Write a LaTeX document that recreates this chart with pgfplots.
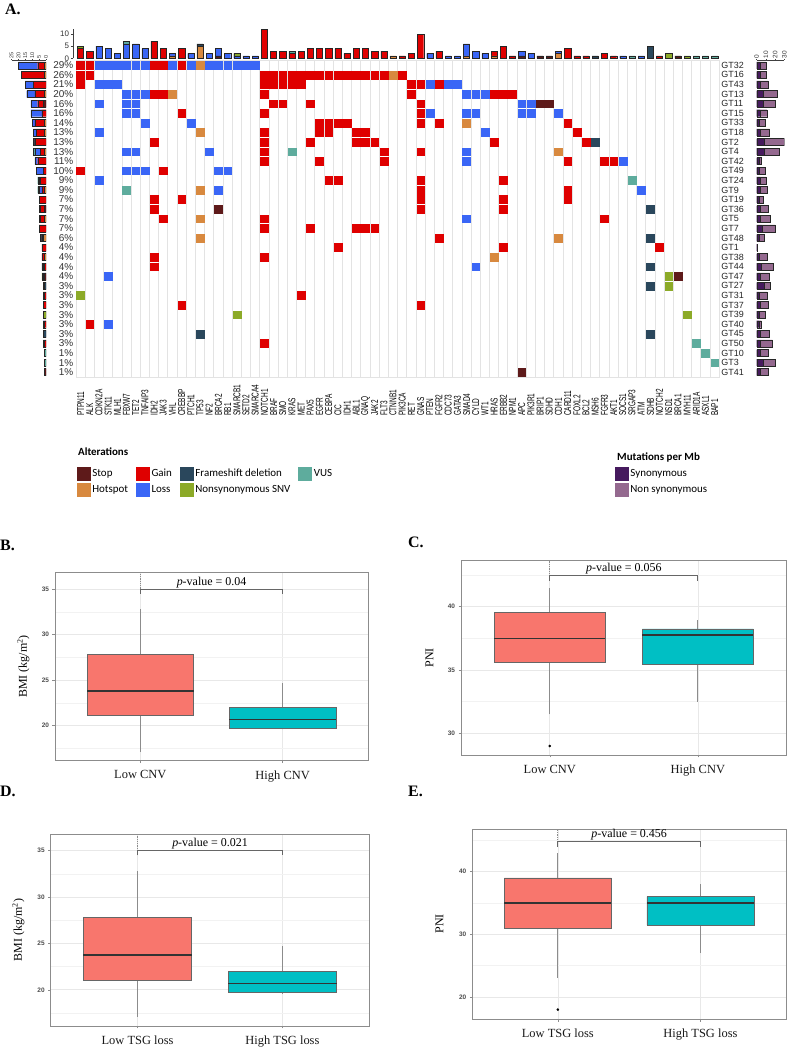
\documentclass[border=0pt]{standalone}
\usepackage{fontspec}
\setmainfont{Liberation Serif}
\newfontfamily\arialf{Liberation Sans}
\newfontfamily\genef[FakeStretch=0.65]{Liberation Sans}
\newfontfamily\calib{Carlito}
\usepackage{pgfplots}
\pgfplotsset{compat=1.18}
\usepackage{pgfplotstable}

\definecolor{cstop}{HTML}{5E1A1A}
\definecolor{chot}{HTML}{D8893F}
\definecolor{cgain}{HTML}{DF0000}
\definecolor{closs}{HTML}{3A66F6}
\definecolor{cfs}{HTML}{2A475C}
\definecolor{csnv}{HTML}{8CAA28}
\definecolor{cvus}{HTML}{5EAC9D}
\definecolor{csyn}{HTML}{461A5E}
\definecolor{cnon}{HTML}{94698F}
\definecolor{cred}{HTML}{F8766D}
\definecolor{ccyan}{HTML}{00BFC4}

% alterations per gene (top bars)
\pgfplotstableread{
g stop hot gain loss fs snv vus
0 0 0 4 0 0 1 0
1 0 0 3 0 0 0 0
2 0 0 0 5 0 0 0
3 0 0 0 4 0 0 0
4 0 0 0 2 0 0 0
5 0 0 0 6 0 0 1
6 0 0 0 6 0 0 0
7 0 0 0 4 0 0 0
8 0 0 7 0 0 0 0
9 0 0 4 0 0 0 0
10 0 1 0 1 0 0 0
11 0 0 4 0 0 0 0
12 0 0 0 2 0 0 0
13 0 5 0 0 1 0 0
14 0 0 0 2 0 0 0
15 1 0 0 3 0 0 0
16 0 0 0 2 0 0 0
17 0 0 0 1 0 1 0
18 0 0 0 1 0 0 0
19 0 0 0 1 0 0 0
20 0 0 12 0 0 0 0
21 0 0 3 0 0 0 0
22 0 0 3 0 0 0 0
23 0 0 2 0 0 0 1
24 0 0 3 0 0 0 0
25 0 0 4 0 0 0 0
26 0 0 4 0 0 0 0
27 0 0 4 0 0 0 0
28 0 0 4 0 0 0 0
29 0 0 2 0 0 0 0
30 0 0 4 0 0 0 0
31 0 0 4 0 0 0 0
32 0 0 3 0 0 0 0
33 0 0 3 0 0 0 0
34 0 1 0 0 0 0 0
35 0 0 1 0 0 0 0
36 0 0 2 0 0 0 0
37 0 0 10 0 0 0 0
38 0 0 0 2 0 0 0
39 0 0 3 0 0 0 0
40 0 0 0 1 0 0 0
41 0 0 0 1 0 0 0
42 0 1 0 5 0 0 0
43 0 0 0 3 0 0 0
44 0 0 0 2 0 0 0
45 0 1 2 0 0 0 0
46 0 0 5 0 0 0 0
47 0 0 1 0 0 0 0
48 1 0 0 2 0 0 0
49 0 0 0 2 0 0 0
50 1 0 0 0 0 0 0
51 1 0 0 0 0 0 0
52 0 2 0 1 0 0 0
53 0 0 4 0 0 0 0
54 0 0 1 0 0 0 0
55 0 0 1 0 0 0 0
56 0 0 0 0 1 0 0
57 0 0 2 0 0 0 0
58 0 0 1 0 0 0 0
59 0 0 0 1 0 0 0
60 0 0 0 0 0 0 1
61 0 0 0 1 0 0 0
62 0 0 0 0 5 0 0
63 0 0 1 0 0 0 0
64 0 0 0 0 0 2 0
65 1 0 0 0 0 0 0
66 0 0 0 0 0 1 0
67 0 0 0 0 0 0 1
68 0 0 0 0 0 0 1
69 0 0 0 0 0 0 1
}\genebars

% alterations per sample (left bars), row 32 = GT32 ... row 0 = GT41
\pgfplotstableread{
r stop hot gain loss fs snv vus
32 0 1 5 14 0 0 0
31 0 1 17 0 0 0 0
30 0 0 9 6 0 0 0
29 0 1 7 6 0 0 0
28 2 0 4 5 0 0 0
27 0 0 3 8 0 0 0
26 0 1 7 2 0 0 0
25 0 1 6 2 0 0 0
24 0 0 8 0 1 0 0
23 0 1 3 4 0 0 1
22 0 0 6 2 0 0 0
21 0 0 2 5 0 0 0
20 0 0 4 1 0 0 1
19 0 1 2 2 0 0 1
18 0 0 5 0 0 0 0
17 1 0 3 0 1 0 0
16 0 1 3 1 0 0 0
15 0 0 5 0 0 0 0
14 0 2 1 0 1 0 0
13 0 0 3 0 0 0 0
12 0 1 2 0 0 0 0
11 0 0 1 1 1 0 0
10 1 0 0 1 0 1 0
9 0 0 0 0 1 1 0
8 0 0 1 0 0 1 0
7 0 0 2 0 0 0 0
6 0 0 0 0 0 2 0
5 0 0 1 1 0 0 0
4 0 0 0 0 2 0 0
3 0 0 1 0 0 0 1
2 0 0 0 0 0 0 1
1 0 0 0 0 0 0 1
0 1 0 0 0 0 0 0
}\samplebars

% mutations per Mb (right bars)
\pgfplotstableread{
r syn non
32 4 6
31 4 6
30 4 8
29 7 15
28 7 13
27 4 7
26 3 6
25 4 10
24 8 22
23 8 16
22 3 2
21 3 6
20 4 6
19 4 7
18 3 4
17 4 8
16 4 11
15 6 14
14 3 5
13 0.5 0.5
12 3 8
11 5 13
10 4 10
9 8 7
8 3 8
7 4 9
6 3 6
5 3 2
4 4 10
3 4 13
2 4 9
1 7 13
0 4 8
}\tmb

\newcommand{\sqimg}[1]{\addlegendimage{legend image code/.code={\fill[#1] (0bp,-6.5bp) rectangle (13bp,6.5bp);}}}

\pgfplotsset{
  gg/.style={
    scale only axis, anchor=south west, clip=false,
    xmin=0.4, xmax=2.6, xtick={1,2},
    axis line style={draw=black!45, line width=0.9bp},
    xmajorgrids, ymajorgrids, yminorgrids,
    major grid style={draw=black!9, line width=0.7bp},
    minor grid style={draw=black!5, line width=0.5bp},
    tick style={draw=black!45, line width=0.6bp},
    major tick length=2.5bp, minor tick length=0pt,
    tick align=outside, xtick pos=left, ytick pos=left,
    yticklabel style={font=\arialf\bfseries\fontsize{6.5}{7}\selectfont, text=black!70},
    xticklabel style={font=\fontsize{12.5}{14}\selectfont, text=black!90},
    xticklabel shift=4bp,
    /pgf/number format/assume math mode=true,
    ylabel style={font=\fontsize{12}{13}\selectfont, anchor=south},
  },
  whisk/.style={draw=black!45, line width=0.9bp},
  boxr/.style={fill=cred, draw=black!60, line width=0.8bp},
  boxc/.style={fill=ccyan, draw=black!60, line width=0.8bp},
  med/.style={draw=black!80, line width=1.3bp},
  brack/.style={draw=black!60, line width=0.9bp},
  dots/.style={draw=black!45, densely dotted, line width=0.8bp},
  stackbar/.style={draw=black!85, line width=0.4bp},
  cell/.style={only marks, mark=square*, mark size=3.9bp},
}

\begin{document}
\begin{tikzpicture}
\path[use as bounding box] (0bp,0bp) rectangle (791bp,1050bp);

% panel labels
\node[anchor=base west, inner sep=0pt, font=\bfseries\fontsize{16}{16}\selectfont] at (5bp,1035bp) {A.};
\node[anchor=base west, inner sep=0pt, font=\bfseries\fontsize{16}{16}\selectfont] at (0bp,499bp) {B.};
\node[anchor=base west, inner sep=0pt, font=\bfseries\fontsize{16}{16}\selectfont] at (408bp,502bp) {C.};
\node[anchor=base west, inner sep=0pt, font=\bfseries\fontsize{16}{16}\selectfont] at (0bp,253bp) {D.};
\node[anchor=base west, inner sep=0pt, font=\bfseries\fontsize{16}{16}\selectfont] at (408bp,253bp) {E.};

% ---------- top bars ----------
\begin{axis}[at={(73.3bp,991.7bp)}, anchor=south west, scale only axis,
  width=646bp, height=29bp, xmin=-0.79, xmax=69.5, ymin=0, ymax=12,
  ybar stacked, bar width=6.2bp,
  axis x line=none, axis y line*=left,
  ytick={0,5,10}, tick align=outside, major tick length=2.5bp,
  y axis line style={draw=black!75, line width=0.6bp},
  ytick style={draw=black!75, line width=0.6bp},
  yticklabel style={font=\arialf\fontsize{8}{8}\selectfont, text=black!80, inner sep=1.5bp},
  /pgf/number format/assume math mode=true,
  every axis plot/.append style={stackbar}]
\addplot[fill=cstop] table[x=g,y=stop]{\genebars};
\addplot[fill=chot] table[x=g,y=hot]{\genebars};
\addplot[fill=cgain] table[x=g,y=gain]{\genebars};
\addplot[fill=closs] table[x=g,y=loss]{\genebars};
\addplot[fill=cfs] table[x=g,y=fs]{\genebars};
\addplot[fill=csnv] table[x=g,y=snv]{\genebars};
\addplot[fill=cvus] table[x=g,y=vus]{\genebars};
\end{axis}

% ---------- left bars ----------
\begin{axis}[at={(11.6bp,673bp)}, anchor=south west, scale only axis,
  width=34.4bp, height=316.5bp, xmin=-25, xmax=0, ymin=-0.5, ymax=32.5,
  xbar stacked, bar width=7bp,
  axis x line*=top, axis y line*=right,
  y axis line style={draw=none}, ytick style={draw=none},
  ytick={0,...,32},
  yticklabels={1\%,1\%,1\%,3\%,3\%,3\%,3\%,3\%,3\%,3\%,4\%,4\%,4\%,4\%,6\%,7\%,7\%,7\%,7\%,9\%,9\%,10\%,11\%,13\%,13\%,13\%,14\%,16\%,16\%,20\%,21\%,26\%,29\%},
  yticklabel style={anchor=east, inner sep=0pt, xshift=26bp, font=\arialf\fontsize{10}{10}\selectfont, text=black!80},
  xtick={-25,-20,-15,-10,-5,0}, xticklabels={25,20,15,10,5,0},
  tick align=outside, major tick length=1.5bp,
  x axis line style={draw=black!75, line width=0.5bp},
  xtick style={draw=black!75, line width=0.5bp},
  xticklabel style={rotate=90, anchor=west, inner sep=0.5bp, font=\arialf\fontsize{5.5}{6}\selectfont, text=black!80},
  every axis plot/.append style={stackbar}]
\addplot[fill=cstop] table[y=r,x expr=-\thisrow{stop}]{\samplebars};
\addplot[fill=chot] table[y=r,x expr=-\thisrow{hot}]{\samplebars};
\addplot[fill=cgain] table[y=r,x expr=-\thisrow{gain}]{\samplebars};
\addplot[fill=closs] table[y=r,x expr=-\thisrow{loss}]{\samplebars};
\addplot[fill=cfs] table[y=r,x expr=-\thisrow{fs}]{\samplebars};
\addplot[fill=csnv] table[y=r,x expr=-\thisrow{snv}]{\samplebars};
\addplot[fill=cvus] table[y=r,x expr=-\thisrow{vus}]{\samplebars};
\end{axis}

% ---------- right bars ----------
\begin{axis}[at={(756.7bp,673bp)}, anchor=south west, scale only axis,
  width=27.6bp, height=316.5bp, xmin=0, xmax=30, ymin=-0.5, ymax=32.5,
  xbar stacked, bar width=7bp,
  axis x line*=top, axis y line*=left,
  y axis line style={draw=none}, ytick style={draw=none},
  ytick={0,...,32},
  yticklabels={GT41,GT3,GT10,GT50,GT45,GT40,GT39,GT37,GT31,GT27,GT47,GT44,GT38,GT1,GT48,GT7,GT5,GT36,GT19,GT9,GT24,GT49,GT42,GT4,GT2,GT18,GT33,GT15,GT11,GT13,GT43,GT16,GT32},
  yticklabel style={anchor=west, inner sep=0pt, xshift=-34bp, font=\arialf\fontsize{9}{9}\selectfont, text=black!85},
  xtick={0,10,20,30}, tick align=outside, major tick length=1.5bp,
  x axis line style={draw=black!75, line width=0.5bp},
  xtick style={draw=black!75, line width=0.5bp},
  xticklabel style={rotate=90, anchor=west, inner sep=0.5bp, font=\arialf\fontsize{6.5}{7}\selectfont, text=black!80},
  /pgf/number format/assume math mode=true,
  every axis plot/.append style={stackbar}]
\addplot[fill=csyn] table[y=r,x=syn]{\tmb};
\addplot[fill=cnon] table[y=r,x=non]{\tmb};
\end{axis}

% ---------- oncoprint grid ----------
\begin{axis}[at={(76bp,673bp)}, anchor=south west, scale only axis,
  width=643.3bp, height=316.5bp,
  xmin=-0.5, xmax=69.5, ymin=-0.5, ymax=32.5,
  xtick={0,...,69},
  xticklabels={PTPN11,ALK,CDKN2A,STK11,MLH1,FBXW7,TET2,TNFAIP3,IDH2,JAK3,VHL,CREBBP,PTCH1,TP53,NF2,BRCA2,RB1,SMARCB1,SETD2,SMARCA4,NOTCH1,BRAF,SMO,KRAS,MET,PAX5,EGFR,CEBPA,CIC,IDH1,ABL1,GNAQ,JAK2,FLT3,CTNNB1,PIK3CA,RET,GNAS,PTEN,FGFR2,CDC73,GATA3,SMAD4,CYLD,WT1,HRAS,ERBB2,NPM1,APC,PIK3R1,BRIP1,SDHD,CDH1,CARD11,FOXL2,BCL2,MSH6,FGFR3,AKT1,SOCS1,SRGAP3,ATM,SDHB,NOTCH2,NSD1,BRCA1,MYH11,ARID1A,ASXL1,BAP1},
  ytick=\empty,
  minor xtick={-0.5,0.5,...,69.5}, minor ytick={-0.5,0.5,...,32.5},
  xminorgrids, yminorgrids,
  minor grid style={draw=black!11, line width=0.9bp},
  major tick length=0pt, minor tick length=0pt,
  axis line style={draw=black!11, line width=0.9bp},
  xticklabel style={rotate=90, anchor=west, inner sep=0pt, font=\genef\fontsize{10}{10}\selectfont, text=black},
  xticklabel shift=39bp]
\addplot[cell, mark options={fill=cgain, draw=cgain}] coordinates {
(0,32)(1,32)(8,32)(9,32)(11,32)
(0,31)(1,31)(20,31)(21,31)(22,31)(23,31)(24,31)(25,31)(26,31)(27,31)(28,31)(29,31)(30,31)(31,31)(32,31)(33,31)(35,31)
(0,30)(20,30)(21,30)(22,30)(23,30)(24,30)(36,30)(37,30)(39,30)
(8,29)(9,29)(20,29)(36,29)(45,29)(46,29)(47,29)
(21,28)(22,28)(25,28)(37,28)
(11,27)(20,27)(37,27)
(26,26)(27,26)(28,26)(29,26)(37,26)(39,26)(53,26)
(20,25)(26,25)(27,25)(30,25)(31,25)(54,25)
(8,24)(20,24)(25,24)(30,24)(31,24)(32,24)(45,24)(55,24)
(20,23)(33,23)(37,23)
(20,22)(26,22)(33,22)(53,22)(57,22)(58,22)
(0,21)(9,21)
(27,20)(28,20)(37,20)(46,20)
(37,19)(53,19)
(8,18)(11,18)(37,18)(46,18)(53,18)
(8,17)(37,17)(46,17)
(9,16)(20,16)(57,16)
(20,15)(25,15)(30,15)(31,15)(32,15)
(39,14)
(28,13)(46,13)(63,13)
(8,12)(20,12)
(8,11)
(24,8)
(11,7)(37,7)
(1,5)
(20,3)
};
\addplot[cell, mark options={fill=closs, draw=closs}] coordinates {
(2,32)(3,32)(4,32)(5,32)(6,32)(7,32)(10,32)(12,32)(14,32)(15,32)(16,32)(17,32)(18,32)(19,32)
(2,30)(3,30)(4,30)(38,30)(40,30)(41,30)
(5,29)(6,29)(7,29)(42,29)(43,29)(44,29)
(2,28)(5,28)(6,28)(48,28)(49,28)
(5,27)(6,27)(38,27)(42,27)(43,27)(48,27)(49,27)(52,27)
(7,26)(12,26)
(2,25)(44,25)
(5,23)(6,23)(14,23)(42,23)
(42,22)(59,22)
(5,21)(6,21)(7,21)(15,21)(16,21)
(2,20)
(15,19)(61,19)
(42,16)
(43,11)
(3,10)
(3,5)
};
\addplot[cell, mark options={fill=chot, draw=chot}] coordinates {
(13,32)(34,31)(10,29)(42,26)(13,25)(52,23)(13,19)(13,16)(13,14)(52,14)(45,12)
};
\addplot[cell, mark options={fill=cstop, draw=cstop}] coordinates {
(50,28)(51,28)(15,17)(65,10)(48,0)
};
\addplot[cell, mark options={fill=cfs, draw=cfs}] coordinates {
(56,24)(62,17)(62,14)(62,11)(62,9)(13,4)(62,4)
};
\addplot[cell, mark options={fill=csnv, draw=csnv}] coordinates {
(0,8)(64,10)(64,9)(17,6)(66,6)
};
\addplot[cell, mark options={fill=cvus, draw=cvus}] coordinates {
(23,23)(60,20)(5,19)(67,3)(68,2)(69,1)
};
\end{axis}

% ---------- legends ----------
\node[anchor=base west, inner sep=0pt, font=\calib\bfseries\fontsize{11}{12}\selectfont] at (78bp,594bp) {Alterations};
\begin{axis}[at={(77bp,583.3bp)}, anchor=north west, hide axis, scale only axis,
  width=5bp, height=5bp, xmin=0, xmax=1, ymin=0, ymax=1,
  legend columns=4, legend cell align=left,
  legend style={at={(0,1)}, anchor=north west, draw=none, fill=none, inner sep=0pt, outer sep=0pt,
    font=\calib\fontsize{11}{12}\selectfont, row sep=2.5bp,
    /tikz/every even column/.append style={column sep=6bp}}]
\sqimg{cstop}\addlegendentry{Stop}
\sqimg{cgain}\addlegendentry{Gain}
\sqimg{cfs}\addlegendentry{Frameshift deletion}
\sqimg{cvus}\addlegendentry{VUS}
\sqimg{chot}\addlegendentry{Hotspot}
\sqimg{closs}\addlegendentry{Loss}
\sqimg{csnv}\addlegendentry{Nonsynonymous SNV}
\end{axis}

\node[anchor=base west, inner sep=0pt, font=\calib\bfseries\fontsize{11}{12}\selectfont] at (617bp,589bp) {Mutations per Mb};
\begin{axis}[at={(615bp,583.3bp)}, anchor=north west, hide axis, scale only axis,
  width=5bp, height=5bp, xmin=0, xmax=1, ymin=0, ymax=1,
  legend columns=1, legend cell align=left,
  legend style={at={(0,1)}, anchor=north west, draw=none, fill=none, inner sep=0pt, outer sep=0pt,
    font=\calib\fontsize{11}{12}\selectfont, row sep=2.5bp}]
\sqimg{csyn}\addlegendentry{Synonymous}
\sqimg{cnon}\addlegendentry{Non synonymous}
\end{axis}

% ---------- B ----------
\begin{axis}[gg, at={(55bp,289.3bp)}, width=313bp, height=188.7bp,
  ymin=16.15, ymax=36.9, ytick={20,25,30,35}, minor ytick={17.5,22.5,27.5,32.5},
  xticklabels={Low CNV,High CNV},
  ylabel={BMI (kg/m\textsuperscript{2})},
  ylabel style={at={(axis description cs:-0.070,0.5)}}]
\addplot[dots] coordinates {(1,35) (1,36.9)};
\addplot[whisk] coordinates {(1,17.1) (1,21.1)};
\addplot[whisk] coordinates {(1,27.8) (1,32.8)};
\addplot[boxr] coordinates {(0.625,21.1) (1.375,21.1) (1.375,27.8) (0.625,27.8) (0.625,21.1)};
\addplot[med] coordinates {(0.625,23.8) (1.375,23.8)};
\addplot[whisk] coordinates {(2,19.6) (2,19.7)};
\addplot[whisk] coordinates {(2,22.0) (2,24.7)};
\addplot[boxc] coordinates {(1.625,19.7) (2.375,19.7) (2.375,22.0) (1.625,22.0) (1.625,19.7)};
\addplot[med] coordinates {(1.625,20.7) (2.375,20.7)};
\addplot[brack] coordinates {(1,34.5) (1,35) (2,35) (2,34.5)};
\node[anchor=south, inner sep=1.5bp, font=\fontsize{12}{13}\selectfont] at (axis cs:1.5,35) {\textit{p}-value = 0.04};
\end{axis}

% ---------- C ----------
\begin{axis}[gg, at={(461bp,295bp)}, width=325.7bp, height=194.3bp,
  ymin=28.29, ymax=43.63, ytick={30,35,40}, minor ytick={32.5,37.5,42.5},
  xticklabels={Low CNV,High CNV},
  ylabel={PNI},
  ylabel style={at={(axis description cs:-0.074,0.5)}}]
\addplot[dots] coordinates {(1,42.45) (1,43.63)};
\addplot[whisk] coordinates {(1,31.5) (1,35.6)};
\addplot[whisk] coordinates {(1,39.53) (1,41.45)};
\addplot[boxr] coordinates {(0.625,35.6) (1.375,35.6) (1.375,39.53) (0.625,39.53) (0.625,35.6)};
\addplot[med] coordinates {(0.625,37.5) (1.375,37.5)};
\addplot[whisk] coordinates {(2,32.5) (2,35.48)};
\addplot[whisk] coordinates {(2,38.24) (2,38.95)};
\addplot[boxc] coordinates {(1.625,35.48) (2.375,35.48) (2.375,38.24) (1.625,38.24) (1.625,35.48)};
\addplot[med] coordinates {(1.625,37.77) (2.375,37.77)};
\addplot[only marks, mark=*, mark size=1.1bp, black] coordinates {(1,29.0)};
\addplot[brack] coordinates {(1,42.05) (1,42.45) (2,42.45) (2,42.05)};
\node[anchor=south, inner sep=1.5bp, font=\fontsize{12}{13}\selectfont] at (axis cs:1.5,42.45) {\textit{p}-value = 0.056};
\end{axis}

% ---------- D ----------
\begin{axis}[gg, at={(50.7bp,24bp)}, width=318.6bp, height=192bp,
  ymin=16.1, ymax=36.8, ytick={20,25,30,35}, minor ytick={17.5,22.5,27.5,32.5},
  xticklabels={Low TSG loss,High TSG loss},
  ylabel={BMI (kg/m\textsuperscript{2})},
  ylabel style={at={(axis description cs:-0.071,0.5)}}]
\addplot[dots] coordinates {(1,35) (1,36.8)};
\addplot[whisk] coordinates {(1,17.1) (1,21.05)};
\addplot[whisk] coordinates {(1,27.8) (1,32.8)};
\addplot[boxr] coordinates {(0.625,21.05) (1.375,21.05) (1.375,27.8) (0.625,27.8) (0.625,21.05)};
\addplot[med] coordinates {(0.625,23.75) (1.375,23.75)};
\addplot[whisk] coordinates {(2,19.6) (2,19.7)};
\addplot[whisk] coordinates {(2,22.0) (2,24.7)};
\addplot[boxc] coordinates {(1.625,19.7) (2.375,19.7) (2.375,22.0) (1.625,22.0) (1.625,19.7)};
\addplot[med] coordinates {(1.625,20.7) (2.375,20.7)};
\addplot[brack] coordinates {(1,34.5) (1,35) (2,35) (2,34.5)};
\node[anchor=south, inner sep=1.5bp, font=\fontsize{12}{13}\selectfont] at (axis cs:1.5,35) {\textit{p}-value = 0.021};
\end{axis}

% ---------- E ----------
\begin{axis}[gg, at={(472.3bp,31bp)}, width=313.7bp, height=190bp,
  ymin=16.5, ymax=46.8, ytick={20,30,40}, minor ytick={25,35,45},
  xticklabels={Low TSG loss,High TSG loss},
  ylabel={PNI},
  ylabel style={at={(axis description cs:-0.081,0.5)}}]
\addplot[dots] coordinates {(1,44.78) (1,46.8)};
\addplot[whisk] coordinates {(1,23.1) (1,31.0)};
\addplot[whisk] coordinates {(1,39.0) (1,43.0)};
\addplot[boxr] coordinates {(0.625,31.0) (1.375,31.0) (1.375,39.0) (0.625,39.0) (0.625,31.0)};
\addplot[med] coordinates {(0.625,35.0) (1.375,35.0)};
\addplot[whisk] coordinates {(2,27.0) (2,31.5)};
\addplot[whisk] coordinates {(2,36.0) (2,38.0)};
\addplot[boxc] coordinates {(1.625,31.5) (2.375,31.5) (2.375,36.0) (1.625,36.0) (1.625,31.5)};
\addplot[med] coordinates {(1.625,35.0) (2.375,35.0)};
\addplot[only marks, mark=*, mark size=1.1bp, black] coordinates {(1,18.0)};
\addplot[brack] coordinates {(1,43.98) (1,44.78) (2,44.78) (2,43.98)};
\node[anchor=south, inner sep=1.5bp, font=\fontsize{12}{13}\selectfont] at (axis cs:1.5,44.78) {\textit{p}-value = 0.456};
\end{axis}

\end{tikzpicture}
\end{document}
